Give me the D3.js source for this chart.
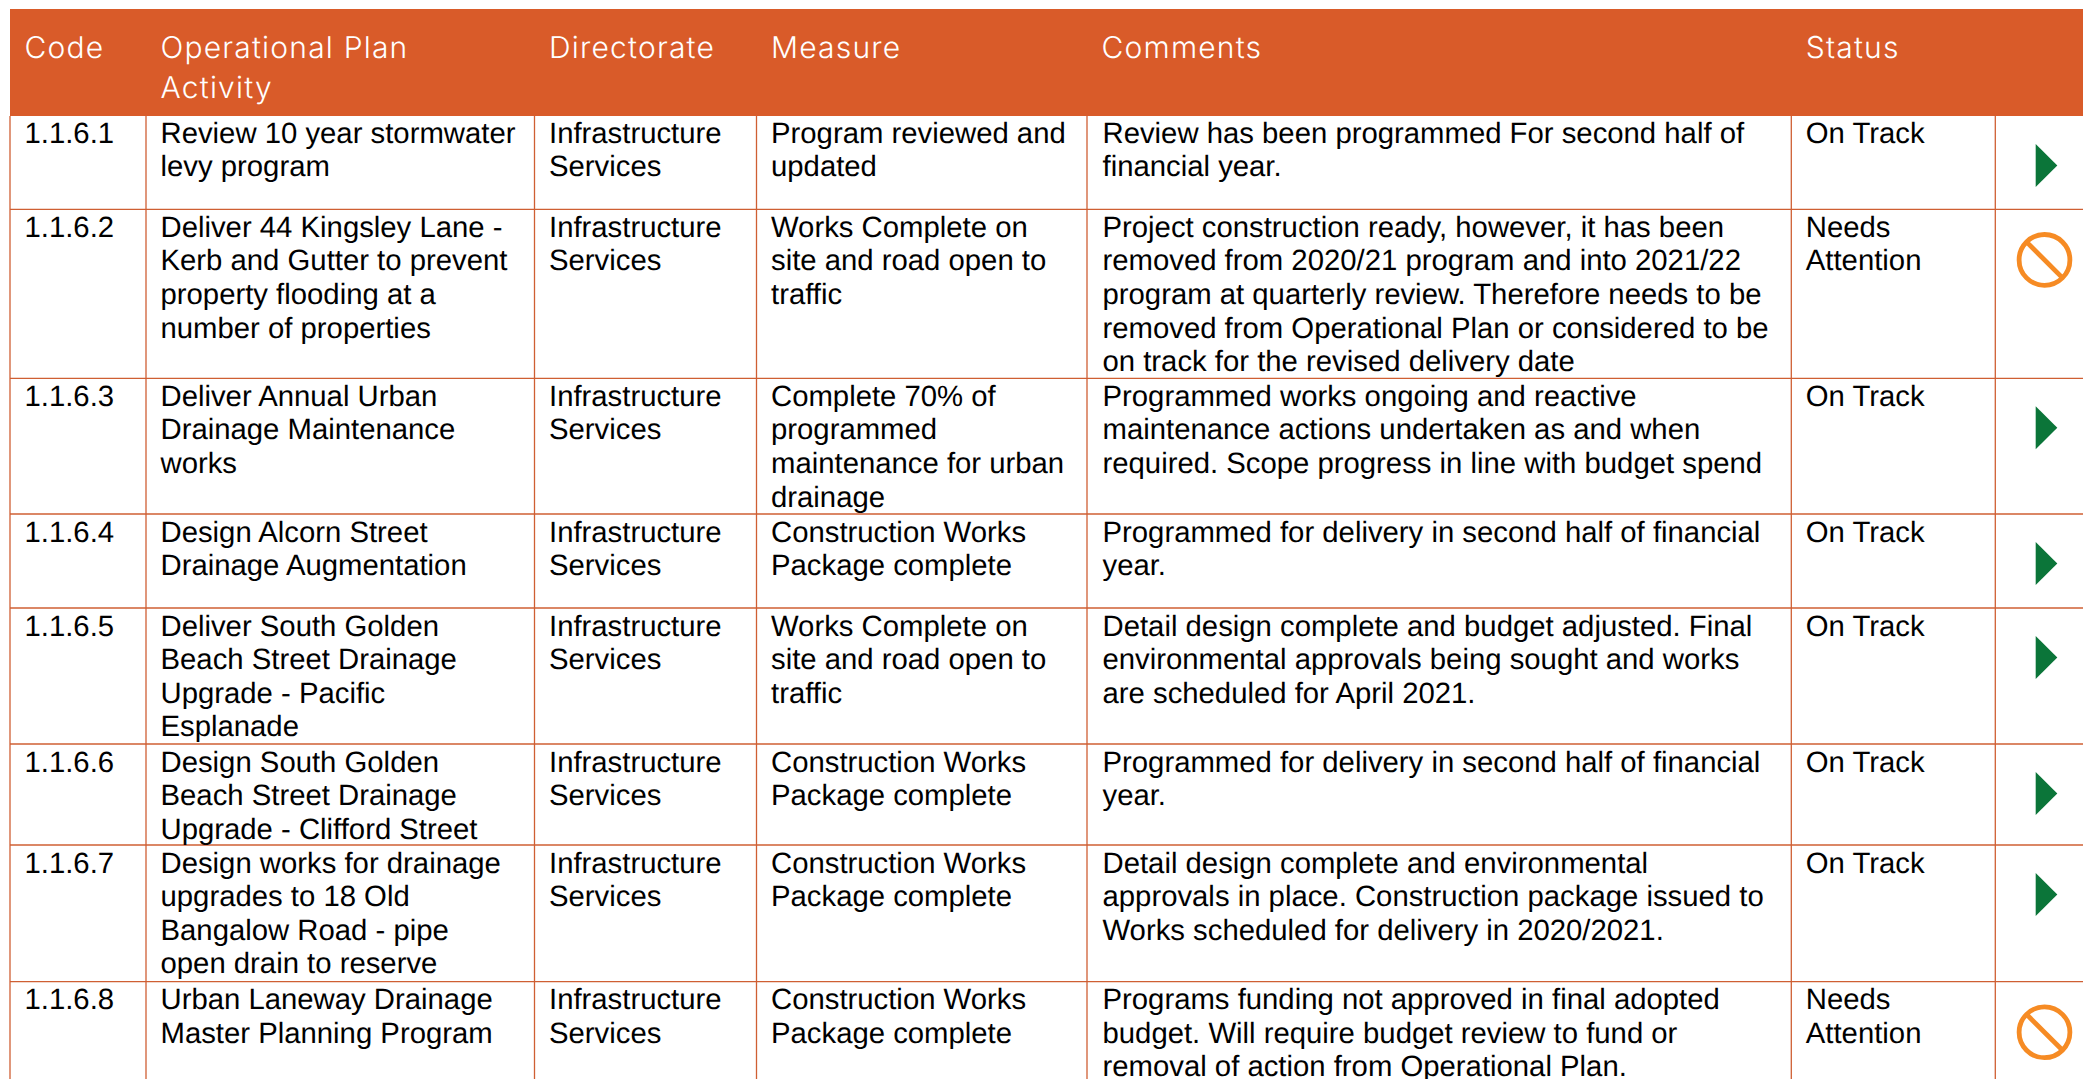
<!DOCTYPE html>
<html>
<head>
<meta charset="utf-8">
<script src="https://cdn.jsdelivr.net/npm/d3@7"></script>
<style>
  html, body { margin: 0; padding: 0; background: #fff; overflow: hidden; }
  svg { display: block; text-rendering: geometricPrecision; }
  .head { font-family: Inter, sans-serif; font-weight: 300; font-size: 30px; letter-spacing: 1.2px; fill: #fff; }
  .cell { font-family: "Liberation Sans", Arial, sans-serif; font-size: 29.3px; fill: #000; }
</style>
</head>
<body>
<svg id="chart" width="2083" height="1079"></svg>
<script>
const headers = [['Code'], ['Operational Plan', 'Activity'], ['Directorate'], ['Measure'], ['Comments'], ['Status'], []];

const codes = ['1.1.6.1', '1.1.6.2', '1.1.6.3', '1.1.6.4', '1.1.6.5', '1.1.6.6', '1.1.6.7', '1.1.6.8'];

const activities = [
  ['Review 10 year stormwater', 'levy program'],
  ['Deliver 44 Kingsley Lane -', 'Kerb and Gutter to prevent', 'property flooding at a', 'number of properties'],
  ['Deliver Annual Urban', 'Drainage Maintenance', 'works'],
  ['Design Alcorn Street', 'Drainage Augmentation'],
  ['Deliver South Golden', 'Beach Street Drainage', 'Upgrade - Pacific', 'Esplanade'],
  ['Design South Golden', 'Beach Street Drainage', 'Upgrade - Clifford Street'],
  ['Design works for drainage', 'upgrades to 18 Old', 'Bangalow Road - pipe', 'open drain to reserve'],
  ['Urban Laneway Drainage', 'Master Planning Program']
];

const directorate = ['Infrastructure', 'Services'];

const measures = [
  ['Program reviewed and', 'updated'],
  ['Works Complete on', 'site and road open to', 'traffic'],
  ['Complete 70% of', 'programmed', 'maintenance for urban', 'drainage'],
  ['Construction Works', 'Package complete'],
  ['Works Complete on', 'site and road open to', 'traffic'],
  ['Construction Works', 'Package complete'],
  ['Construction Works', 'Package complete'],
  ['Construction Works', 'Package complete']
];

const comments = [
  ['Review has been programmed For second half of', 'financial year.'],
  ['Project construction ready, however, it has been', 'removed from 2020/21 program and into 2021/22', 'program at quarterly review. Therefore needs to be', 'removed from Operational Plan or considered to be', 'on track for the revised delivery date'],
  ['Programmed works ongoing and reactive', 'maintenance actions undertaken as and when', 'required. Scope progress in line with budget spend'],
  ['Programmed for delivery in second half of financial', 'year.'],
  ['Detail design complete and budget adjusted. Final', 'environmental approvals being sought and works', 'are scheduled for April 2021.'],
  ['Programmed for delivery in second half of financial', 'year.'],
  ['Detail design complete and environmental', 'approvals in place. Construction package issued to', 'Works scheduled for delivery in 2020/2021.'],
  ['Programs funding not approved in final adopted', 'budget. Will require budget review to fund or', 'removal of action from Operational Plan.']
];

const statuses = ['On Track', 'Needs Attention', 'On Track', 'On Track', 'On Track', 'On Track', 'On Track', 'Needs Attention'];

// layout of the grid, measured off the page
const colEdges = [10, 146, 534.5, 756.5, 1087, 1791.3, 1995.3, 2083];
const rowEdges = [9, 116, 209.3, 378.3, 514, 608, 744, 845, 981.7, 1079];
const linePitch = 33.6;

const colors = { head: '#d95b29', rule: '#cf5f33', track: '#0b7539', attn: '#f68b24' };

const svg = d3.select('#chart');

const x = d3.scaleOrdinal().domain(d3.range(colEdges.length)).range(colEdges);
const y = d3.scaleOrdinal().domain(d3.range(rowEdges.length)).range(rowEdges);

const rows = codes.map((code, i) => ({
  i,
  cells: [[code], activities[i], directorate, measures[i], comments[i], statuses[i] === 'Needs Attention' ? ['Needs', 'Attention'] : [statuses[i]]],
  status: statuses[i]
}));

// header band
svg.append('rect')
  .attr('x', x(0)).attr('y', y(0))
  .attr('width', x(7) - x(0)).attr('height', y(1) - y(0))
  .attr('fill', colors.head);

// grid rules
svg.append('g').selectAll('line')
  .data(d3.range(2, 9))
  .join('line')
  .attr('x1', x(0)).attr('x2', x(7))
  .attr('y1', d => y(d)).attr('y2', d => y(d))
  .attr('stroke', colors.rule).attr('stroke-width', 1.3);

svg.append('g').selectAll('line')
  .data(d3.range(0, 7))
  .join('line')
  .attr('x1', d => x(d)).attr('x2', d => x(d))
  .attr('y1', y(1)).attr('y2', y(9))
  .attr('stroke', colors.rule).attr('stroke-width', 1.3);

// header text
const headG = svg.append('g').attr('class', 'head');
headers.forEach((lines, c) => {
  headG.selectAll(null)
    .data(lines)
    .join('text')
    .attr('x', x(c) + 14.5)
    .attr('y', (d, l) => y(0) + 48.5 + l * 40.5)
    .text(d => d);
});

// body cells, first row sits a touch higher in the source
const rowG = svg.append('g').selectAll('g')
  .data(rows)
  .join('g');

rowG.each(function (r) {
  const g = d3.select(this);
  r.cells.forEach((lines, c) => {
    g.selectAll(null)
      .data(lines)
      .join('text')
      .attr('class', 'cell')
      .attr('x', x(c) + (c === 4 ? 15.5 : 14.5))
      .attr('y', (d, l) => y(r.i + 1) + (r.i === 0 ? 26.7 : 27.5) + l * linePitch)
      .text(d => d);
  });
});

// status icons
rowG.filter(d => d.status === 'On Track').append('path')
  .attr('transform', d => `translate(${x(6) + 40.4},${y(d.i + 1) + 49.5})`)
  .attr('d', 'M0,-21.5 L21.6,0 L0,21.5 Z')
  .attr('fill', colors.track);

const attn = rowG.filter(d => d.status === 'Needs Attention').append('g')
  .attr('transform', d => `translate(${x(6) + 49.2},${y(d.i + 1) + 50.6})`);
attn.append('circle').attr('r', 25.4).attr('fill', 'none').attr('stroke', colors.attn).attr('stroke-width', 4.8);
attn.append('line').attr('x1', -17.5).attr('y1', -17.5).attr('x2', 17.5).attr('y2', 17.5)
  .attr('stroke', colors.attn).attr('stroke-width', 4.8);
</script>
</body>
</html>
